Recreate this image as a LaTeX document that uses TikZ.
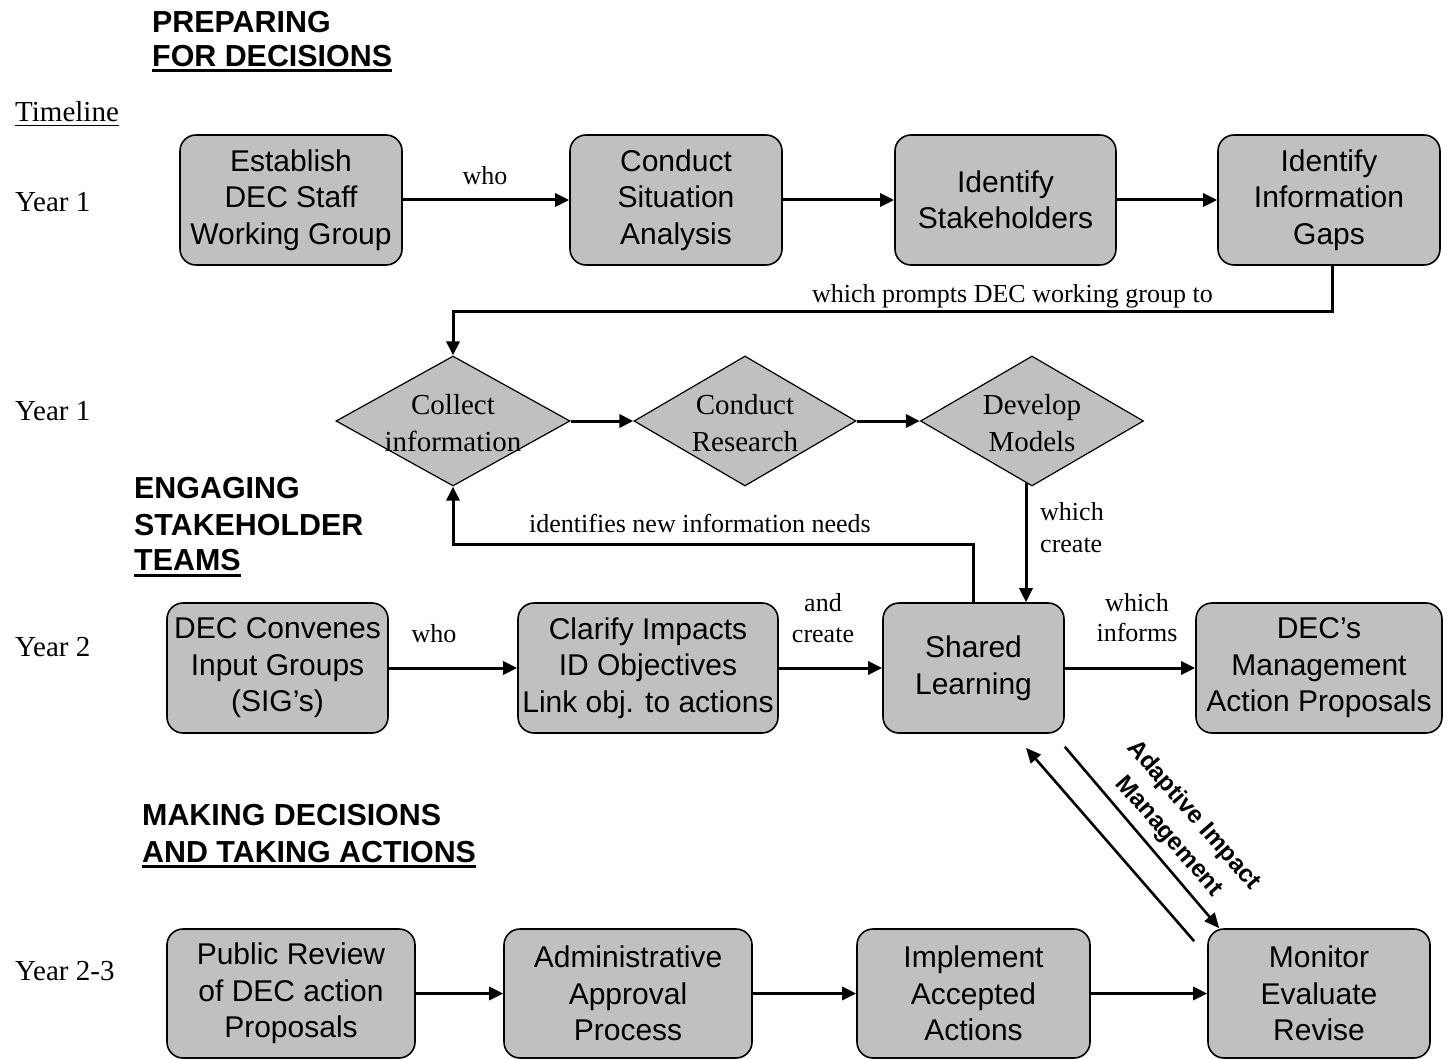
\documentclass[tikz,border=0pt]{standalone}
\usepackage{fontspec}
\setmainfont{Liberation Serif}
\setsansfont{Liberation Sans}
\usetikzlibrary{arrows.meta,shapes.geometric}
\definecolor{boxgray}{RGB}{192,192,192}
\newcommand\boxfont{\sffamily\fontsize{30}{36.5}\selectfont}
\newcommand\diafont{\rmfamily\fontsize{29}{37}\selectfont}
\newcommand\lblfont{\rmfamily\fontsize{26}{31.5}\selectfont}
\newcommand\yrfont{\rmfamily\fontsize{29}{35}\selectfont}
\newcommand\headfont{\sffamily\bfseries\fontsize{30.4}{36}\selectfont}
\begin{document}
\begin{tikzpicture}[x=1pt,y=-1pt,
  stepbox/.style={draw=black, line width=1.6pt, fill=boxgray, rounded corners=16pt,
    align=center, font=\boxfont, inner sep=0pt, minimum height=130pt},
  dia/.style={diamond, draw=black, line width=1.2pt, fill=boxgray, inner sep=0pt,
    minimum height=130pt},
  diatext/.style={align=center, font=\diafont, inner sep=0pt},
  arr/.style={line width=3pt, -{Triangle[length=14pt,width=13pt]}},
  diagarr/.style={line width=2.6pt, -{Triangle[length=15pt,width=13pt]}},
  lbl/.style={font=\lblfont, inner sep=0pt},
  yr/.style={font=\yrfont, inner sep=0pt, anchor=base west},
  head/.style={font=\headfont, inner sep=0pt, anchor=base west},
  uline/.style={line width=3pt}
]
\useasboundingbox (0,0) rectangle (1448,1059);

% headings
\node[head] (h1a) at (152,33) {PREPARING};
\node[head] (h1b) at (152,67) {FOR DECISIONS};
\draw[uline] ([yshift=-4pt]h1b.base west) -- ([yshift=-4pt]h1b.base east);
\node[head] (h2a) at (134,498) {ENGAGING};
\node[head] (h2b) at (134,535) {STAKEHOLDER};
\node[head] (h2c) at (134,570) {TEAMS};
\draw[uline] ([yshift=-5pt]h2c.base west) -- ([yshift=-5pt]h2c.base east);
\node[head] (h3a) at (142,825) {MAKING DECISIONS};
\node[head] (h3b) at (142,862) {AND TAKING ACTIONS};
\draw[uline] ([yshift=-4.5pt]h3b.base west) -- ([yshift=-4.5pt]h3b.base east);

% timeline
\node[yr] (tl) at (15,122) {Timeline};
\draw[line width=1.3pt] ([yshift=-3.5pt]tl.base west) -- ([yshift=-3.5pt]tl.base east);
\node[yr] (y1) at (15,212) {Year 1};
\node[yr] (y1b) at (15,420) {Year 1};
\node[yr] (y2) at (15,656) {Year 2};
\node[yr] (y3) at (15,980) {Year 2-3};

% row 1
\node[stepbox, minimum width=222pt] (b1) at (291,200) {Establish\\DEC Staff\\Working Group};
\node[stepbox, minimum width=212pt] (b2) at (676,200) {Conduct\\Situation\\Analysis};
\node[stepbox, minimum width=221pt] (b3) at (1005.5,200) {Identify\\Stakeholders};
\node[stepbox, minimum width=222pt] (b4) at (1329,200) {Identify\\Information\\Gaps};
\draw[arr] (b1) -- (b2);
\draw[arr] (b2) -- (b3);
\draw[arr] (b3) -- (b4);
\node[lbl, anchor=base] (lwho1) at (485,185) {who};

% row 2 diamonds
\node[dia, minimum width=234pt] (d1) at (453,421) {};
\node[diatext] (t1) at (453,423) {Collect\\information};
\node[dia, minimum width=222pt] (d2) at (745,421) {};
\node[diatext] (t2) at (745,423) {Conduct\\Research};
\node[dia, minimum width=223pt] (d3) at (1032,421) {};
\node[diatext] (t3) at (1032,423) {Develop\\Models};
\draw[arr] (d1) -- (d2);
\draw[arr] (d2) -- (d3);

\draw[arr] ([xshift=3pt]b4.south) -- ++(0,46) -| (d1.north);
\node[lbl, anchor=base east] (lprompt) at (1213,302) {which prompts DEC working group to};

% row 3
\node[stepbox, minimum width=221pt] (c1) at (277.5,668) {DEC Convenes\\Input Groups\\(SIG’s)};
\node[stepbox, minimum width=260pt] (c2) at (648,668) {Clarify Impacts\\ID Objectives\\Link obj. to actions};
\node[stepbox, minimum width=181pt] (sl) at (973.5,668) {Shared\\Learning};
\node[stepbox, minimum width=246pt] (c4) at (1319,668) {DEC’s\\Management\\Action Proposals};
\draw[arr] (c1) -- (c2);
\draw[arr] (c2) -- (sl);
\draw[arr] (sl) -- (c4);
\node[lbl, anchor=base] (lwho2) at (434,642) {who};
\node[lbl, anchor=base] (land) at (823,611) {and};
\node[lbl, anchor=base] (lcreate) at (823,642) {create};
\node[lbl, anchor=base] (lwhich1) at (1137,611) {which};
\node[lbl, anchor=base] (linforms) at (1137,641) {informs};

% vertical connectors
\draw[arr] ([xshift=-6pt,yshift=3.5pt]d3.south) -- ([xshift=-6pt]d3.south |- sl.north);
\node[lbl, anchor=base west] (lwhich2) at (1040,520) {which};
\node[lbl, anchor=base west] (lcreate2) at (1040,552) {create};
\draw[arr] (sl.north) -- ++(0,-58) -| (d1.south);
\node[lbl, anchor=base west] (lident) at (529,532) {identifies new information needs};

% row 4
\node[stepbox, minimum width=248pt, minimum height=129pt] (e1) at (291,993.5) {Public Review\\of DEC action\\Proposals};
\node[stepbox, minimum width=248pt, minimum height=129pt] (e2) at (628,993.5) {Administrative\\Approval\\Process};
\node[stepbox, minimum width=233pt, minimum height=129pt] (e3) at (973.5,993.5) {Implement\\Accepted\\Actions};
\node[stepbox, minimum width=222pt, minimum height=129pt] (e4) at (1319,993.5) {Monitor\\Evaluate\\Revise};
\draw[arr] (e1) -- (e2);
\draw[arr] (e2) -- (e3);
\draw[arr] (e3) -- (e4);

% adaptive loop
\draw[diagarr] ([yshift=-13pt]sl.south east) -- ([xshift=12pt]e4.north west);
\draw[diagarr] ([xshift=-13pt,yshift=-13pt]e4.north west) -- ([xshift=52.5pt,yshift=-14pt]sl.south);
\node[rotate=-49, align=center, inner sep=0pt, font=\sffamily\bfseries\fontsize{24.5}{32.5}\selectfont] (aim) at (1181,826) {Adaptive Impact\\Management};
\end{tikzpicture}
\end{document}
